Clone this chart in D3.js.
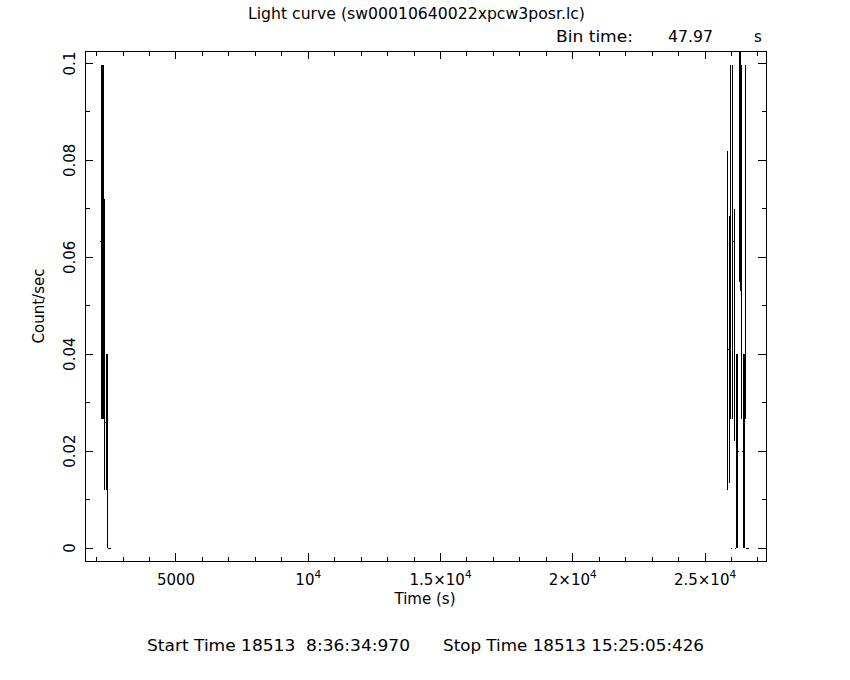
<!DOCTYPE html>
<html>
<head>
<meta charset="utf-8">
<script src="https://cdn.jsdelivr.net/npm/d3@7"></script>
<style>
  html, body { margin: 0; padding: 0; background: #fff; }
  text { font-family: "DejaVu Sans", sans-serif; fill: #000; }
</style>
</head>
<body>
<svg id="chart" width="850" height="680"></svg>
<script>
// ---- data ----
const binTime = 47.97;
const times = [2166, 2214, 2262, 2310, 2358, 2406, 2454, 2502,
               25862, 25910, 25958, 26006, 26054, 26102, 26150, 26198, 26246,
               26294, 26342, 26390, 26438, 26486, 26534, 26582, 26630];
const rates = [0.0632, 0.0632, 0.0632, 0.042, 0.026, 0.020, 0, 0,
               0.047, 0.041, 0.0632, 0, 0.0632, 0.046, 0, 0.020, 0.020,
               0.080, 0.079, 0.0632, 0.020, 0.020, 0.0632, 0, 0];
const errors = [0.0365, 0.0365, 0.0365, 0.030, 0.014, 0.020, 0, 0,
                0.035, 0.0275, 0.0365, 0, 0.0365, 0.024, 0, 0.020, 0.020,
                0.025, 0.026, 0.0365, 0.020, 0.020, 0.0365, 0, 0];
const xMajorTicks = [5000, 10000, 15000, 20000, 25000];
const xTickMantissa = ["5000", "", "1.5×", "2×", "2.5×"];
const xTickExp = [null, "4", "4", "4", "4"];
const xTickBase = ["", "10", "10", "10", "10"];
const xMinorTicks = [2000, 3000, 4000, 6000, 7000, 8000, 9000, 11000, 12000, 13000, 14000,
                     16000, 17000, 18000, 19000, 21000, 22000, 23000, 24000, 26000, 27000];
const yMajorTicks = [0, 0.02, 0.04, 0.06, 0.08, 0.1];
const yTickLabels = ["0", "0.02", "0.04", "0.06", "0.08", "0.1"];
const yMinorTicks = [0.01, 0.03, 0.05, 0.07, 0.09];
const xLimits = [1561, 27305];
const yLimits = [-0.00268, 0.10258];

const titleText = "Light curve (sw00010640022xpcw3posr.lc)";
const binLabel = "Bin time:";
const binValue = "47.97";
const binUnit = "s";
const xLabel = "Time (s)";
const yLabel = "Count/sec";
const startText = "Start Time 18513  8:36:34:970";
const stopText = "Stop Time 18513 15:25:05:426";

// ---- layout ----
const L = 85, R = 766, T = 51, B = 561;
const majorLen = 8, minorLen = 4.5;

const svg = d3.select("#chart");
const x = d3.scaleLinear().domain(xLimits).range([L, R]);
const y = d3.scaleLinear().domain(yLimits).range([B, T]);

// clip
svg.append("defs").append("clipPath").attr("id", "clip")
  .append("rect").attr("x", L).attr("y", T).attr("width", R - L).attr("height", B - T);

// data
const data = times.map((t, i) => ({ t, r: rates[i], e: errors[i] }));
const g = svg.append("g").attr("clip-path", "url(#clip)")
  .attr("stroke", "#000").attr("stroke-width", 1).attr("shape-rendering", "crispEdges");
g.selectAll("line.eb").data(data).join("line").attr("class", "eb")
  .attr("x1", d => x(d.t)).attr("x2", d => x(d.t))
  .attr("y1", d => y(d.r - d.e)).attr("y2", d => y(d.r + d.e));
g.selectAll("line.bin").data(data).join("line").attr("class", "bin")
  .attr("x1", d => x(d.t - binTime / 2)).attr("x2", d => x(d.t + binTime / 2))
  .attr("y1", d => y(d.r)).attr("y2", d => y(d.r));

// frame
const fr = svg.append("g").attr("stroke", "#000").attr("stroke-width", 1)
  .attr("shape-rendering", "crispEdges").attr("fill", "none");
fr.append("rect").attr("x", L).attr("y", T).attr("width", R - L).attr("height", B - T);

// ticks all four sides, inward
function xTick(v, len) {
  fr.append("line").attr("x1", x(v)).attr("x2", x(v)).attr("y1", B).attr("y2", B - len);
  fr.append("line").attr("x1", x(v)).attr("x2", x(v)).attr("y1", T).attr("y2", T + len);
}
function yTick(v, len) {
  fr.append("line").attr("y1", y(v)).attr("y2", y(v)).attr("x1", L).attr("x2", L + len);
  fr.append("line").attr("y1", y(v)).attr("y2", y(v)).attr("x1", R).attr("x2", R - len);
}
xMajorTicks.forEach(v => xTick(v, majorLen));
xMinorTicks.forEach(v => xTick(v, minorLen));
yMajorTicks.forEach(v => yTick(v, majorLen));
yMinorTicks.forEach(v => yTick(v, minorLen));

const fs = 15;
// x tick labels
xMajorTicks.forEach((v, i) => {
  const t = svg.append("text").attr("x", x(v)).attr("y", 585)
    .attr("text-anchor", "middle").attr("font-size", fs);
  t.append("tspan").text(xTickMantissa[i] + xTickBase[i]);
  if (xTickExp[i]) {
    t.append("tspan").attr("dy", -7).attr("font-size", 10.5).text(xTickExp[i]);
  }
});
// y tick labels
yMajorTicks.forEach((v, i) => {
  svg.append("text").attr("transform", `translate(75,${y(v)}) rotate(-90)`)
    .attr("text-anchor", "middle").attr("font-size", fs).text(yTickLabels[i]);
});
// axis labels
svg.append("text").attr("x", 425).attr("y", 604).attr("text-anchor", "middle")
  .attr("font-size", fs).text(xLabel);
svg.append("text").attr("transform", `translate(44,306) rotate(-90)`)
  .attr("text-anchor", "middle").attr("font-size", fs).text(yLabel);
// title
svg.append("text").attr("x", 248).attr("y", 19).attr("font-size", fs)
  .attr("textLength", 337).attr("lengthAdjust", "spacingAndGlyphs").text(titleText);
svg.append("text").attr("x", 556).attr("y", 42).attr("font-size", fs)
  .attr("textLength", 77).attr("lengthAdjust", "spacingAndGlyphs").text(binLabel);
svg.append("text").attr("x", 668).attr("y", 42).attr("font-size", fs)
  .attr("textLength", 45).attr("lengthAdjust", "spacingAndGlyphs").text(binValue);
svg.append("text").attr("x", 754).attr("y", 42).attr("font-size", fs).text(binUnit);
// footer
svg.append("text").attr("x", 147).attr("y", 651).attr("font-size", fs)
  .attr("textLength", 263).attr("lengthAdjust", "spacingAndGlyphs").attr("xml:space", "preserve").text(startText);
svg.append("text").attr("x", 443).attr("y", 651).attr("font-size", fs)
  .attr("textLength", 261).attr("lengthAdjust", "spacingAndGlyphs").text(stopText);
</script>
</body>
</html>
